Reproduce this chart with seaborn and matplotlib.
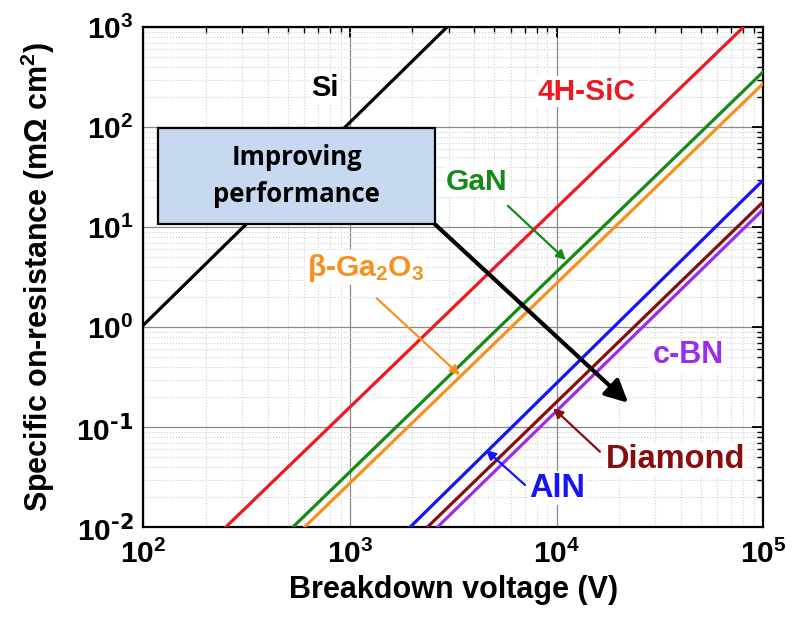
import matplotlib
matplotlib.use("Agg")
import matplotlib.pyplot as plt
import seaborn as sns
import pandas as pd
import numpy as np
from matplotlib.patches import Rectangle

# ---- data ----
materials = ["Si", "4H-SiC", "GaN", "β-Ga2O3", "AlN", "Diamond", "c-BN"]
v_start = [100, 250, 528, 601, 1950, 2365, 2645]            # V
v_end = [2940, 80000, 1e5, 1e5, 1e5, 1e5, 1e5]              # V
r_start = [1.05, 0.01, 0.01, 0.01, 0.01, 0.01, 0.01]        # mOhm cm2
r_end = [1000, 1000, 360, 275, 29.7, 18, 15.1]              # mOhm cm2
colors = ["#000000", "#f01820", "#168a16", "#f7901e", "#1414f5", "#870e0e", "#9a2cf0"]

x_ticks = [1e2, 1e3, 1e4, 1e5]
x_ticklabels = ["10$^2$", "10$^3$", "10$^4$", "10$^5$"]
y_ticks = [1e-2, 1e-1, 1e0, 1e1, 1e2, 1e3]
y_ticklabels = ["10$^{\\text{-2}}$", "10$^{\\text{-1}}$", "10$^0$", "10$^1$", "10$^2$", "10$^3$"]

rows = []
for m, v0, v1, r0, r1 in zip(materials, v_start, v_end, r_start, r_end):
    rows.append({"V": v0, "R": r0, "material": m})
    rows.append({"V": v1, "R": r1, "material": m})
df = pd.DataFrame(rows)

sns.set_style("white")
plt.rcParams["font.family"] = ["Liberation Sans", "DejaVu Sans"]
plt.rcParams["font.weight"] = "bold"
plt.rcParams["mathtext.default"] = "regular"
for k in ["text.color", "axes.labelcolor", "xtick.color", "ytick.color"]:
    plt.rcParams[k] = "black"

fig = plt.figure(figsize=(7.97, 6.18), dpi=100)
ax = fig.add_axes([143.3 / 797, 1 - 527.3 / 618, 620 / 797, 500 / 618])

sns.lineplot(data=df, x="V", y="R", hue="material", palette=dict(zip(materials, colors)),
             hue_order=materials, legend=False, linewidth=2.3, ax=ax, zorder=3)

ax.set_xscale("log")
ax.set_yscale("log")
ax.set_xlim(1e2, 1e5)
ax.set_ylim(1e-2, 1e3)

ax.grid(True, which="major", color="#8a8a8a", linewidth=0.9, linestyle="-")
ax.grid(True, which="minor", color="#cfcfcf", linewidth=0.8, linestyle=":")
ax.set_axisbelow(True)

ax.set_xticks(x_ticks, labels=x_ticklabels)
ax.set_yticks(y_ticks, labels=y_ticklabels)
ax.tick_params(which="both", direction="in", top=True, right=True, color="black")
ax.tick_params(which="major", length=8, width=1.3)
ax.tick_params(which="minor", length=4.5, width=1.0)
ax.tick_params(axis="x", which="major", labelsize=21.5, pad=9)
ax.tick_params(axis="y", which="major", labelsize=21.5, pad=7)
for lab in ax.get_xticklabels() + ax.get_yticklabels():
    lab.set_fontweight("bold")
for s in ax.spines.values():
    s.set_color("black")
    s.set_linewidth(1.6)

ax.set_xlabel("Breakdown voltage (V)", fontsize=22, fontweight="bold", labelpad=4)
ax.set_ylabel("Specific on-resistance (mΩ cm$^2$)", fontsize=22, fontweight="bold", labelpad=14)

# ---- labels ----
lab_pos = {
    "Si": (0.293, 0.878),
    "4H-SiC": (0.715, 0.871),
    "GaN": (0.538, 0.691),
    "β-Ga2O3": (0.358, 0.519),
    "c-BN": (0.879, 0.344),
    "Diamond": (0.858, 0.135),
    "AlN": (0.667, 0.078),
}
lab_size = {"Si": 21, "4H-SiC": 21.5, "GaN": 21.5, "β-Ga2O3": 21.5, "c-BN": 22,
            "Diamond": 23.5, "AlN": 23.5}
lab_text = {"β-Ga2O3": "β-Ga$_2$O$_3$"}
for m, c in zip(materials, colors):
    fx, fy = lab_pos[m]
    ax.text(fx, fy, lab_text.get(m, m), transform=ax.transAxes, color=c, fontsize=lab_size[m],
            fontweight="bold", ha="center", va="center", zorder=5,
            bbox=dict(facecolor="white", edgecolor="none", pad=1.0))

# ---- pointer arrows (tail label -> tip on line) ----
arrows = [
    ("GaN", (5808, 16.4), (11090, 4.71)),
    ("β-Ga2O3", (1346, 1.95), (3404, 0.333)),
    ("Diamond", (16200, 0.057), (9640, 0.155)),
    ("AlN", (7030, 0.0265), (4550, 0.0593)),
]
cmap = dict(zip(materials, colors))
for m, tail, tip in arrows:
    ax.annotate("", xy=tip, xytext=tail, xycoords="data", textcoords="data",
                arrowprops=dict(arrowstyle="-|>", color=cmap[m], lw=1.6,
                                mutation_scale=14, shrinkA=0, shrinkB=0), zorder=6)

# ---- improving performance box and arrow ----
box = Rectangle((0.0237, 0.606), 0.4468, 0.193, transform=ax.transAxes,
                facecolor="#c6d9f1", edgecolor="black", linewidth=1.6, zorder=7)
ax.add_patch(box)
ax.text(0.2471, 0.7025, "Improving\nperformance", transform=ax.transAxes, ha="center",
        va="center", fontsize=18.5, fontweight="bold", family=["Open Sans", "DejaVu Sans"],
        linespacing=1.45, zorder=8)
ax.annotate("", xy=(0.782, 0.249), xytext=(0.4705, 0.606), xycoords="axes fraction",
            textcoords="axes fraction",
            arrowprops=dict(arrowstyle="-|>", color="black", lw=3.0, mutation_scale=34,
                            shrinkA=0, shrinkB=0), zorder=6)

fig.savefig("out.png", dpi=100)
